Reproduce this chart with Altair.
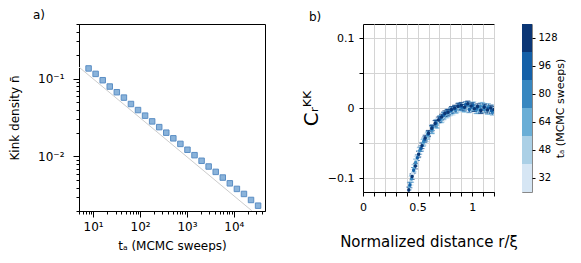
import altair as alt
import pandas as pd

FONT = "DejaVu Sans"

# ---------------- panel a: kink density vs annealing time ----------------
anneal_time = [8, 11.3, 16, 22.6, 32, 45.3, 64, 90.5, 128, 181, 256, 362, 512,
               724, 1024, 1448, 2048, 2896, 4096, 5793, 8192, 11585, 16384,
               23170, 32768]
kink_density = [0.1346, 0.1146, 0.0951, 0.0789, 0.0667, 0.0569, 0.0471, 0.0394,
                0.0334, 0.0282, 0.0238, 0.0202, 0.0171, 0.0145, 0.0122, 0.0104,
                0.00881, 0.00744, 0.00635, 0.00537, 0.00453, 0.00384, 0.00331,
                0.00277, 0.00234]
fit_time = [5, 24000]
fit_density = [0.14, 0.00202]

# ---------------- panel b: kink-kink correlation ----------------
ta_levels = [32, 48, 64, 80, 96, 128]
ta_colors = ["#d6e6f4", "#abd0e6", "#6aaed6", "#3787c0", "#1460a8", "#0b3675"]

r_32 = [0.455, 0.512, 0.569, 0.626, 0.683, 0.74, 0.797, 0.854, 0.911, 0.968,
        1.025, 1.082, 1.139, 1.196]
c_32 = [-0.094, -0.063, -0.044, -0.030, -0.021, -0.012, -0.006, -0.002, 0.001,
        0.003, -0.001, 0.002, -0.003, -0.001]
r_48 = [0.44, 0.488, 0.536, 0.584, 0.632, 0.68, 0.728, 0.776, 0.824, 0.872,
        0.92, 0.968, 1.016, 1.064, 1.112, 1.16]
c_48 = [-0.104, -0.075, -0.055, -0.042, -0.031, -0.022, -0.014, -0.008, -0.004,
        0.000, 0.002, -0.001, 0.003, -0.002, 0.000, -0.003]
r_64 = [0.425, 0.467, 0.509, 0.551, 0.593, 0.635, 0.677, 0.719, 0.761, 0.803,
        0.845, 0.887, 0.929, 0.971, 1.013, 1.055, 1.097, 1.139, 1.181]
c_64 = [-0.112, -0.086, -0.066, -0.050, -0.040, -0.031, -0.024, -0.016, -0.009,
        -0.005, -0.002, 0.001, -0.001, 0.003, 0.000, -0.002, 0.003, -0.004, -0.001]
r_80 = [0.445, 0.482, 0.519, 0.556, 0.593, 0.63, 0.667, 0.704, 0.741, 0.778,
        0.815, 0.852, 0.889, 0.926, 0.963, 1.0, 1.037, 1.074, 1.111, 1.148, 1.185]
c_80 = [-0.101, -0.078, -0.061, -0.048, -0.038, -0.031, -0.023, -0.016, -0.011,
        -0.007, -0.003, -0.002, 0.002, 0.000, 0.004, 0.001, -0.003, 0.002, -0.002,
        0.001, -0.005]
r_96 = [0.43, 0.464, 0.498, 0.532, 0.566, 0.60, 0.634, 0.668, 0.702, 0.736, 0.77,
        0.804, 0.838, 0.872, 0.906, 0.94, 0.974, 1.008, 1.042, 1.076, 1.11, 1.144,
        1.178]
c_96 = [-0.110, -0.089, -0.071, -0.058, -0.045, -0.037, -0.028, -0.021, -0.016,
        -0.010, -0.006, -0.004, -0.001, 0.003, 0.001, 0.005, -0.002, 0.004, 0.000,
        -0.003, 0.002, -0.001, -0.004]
r_128 = [0.42, 0.45, 0.48, 0.51, 0.54, 0.57, 0.60, 0.63, 0.66, 0.69, 0.72, 0.75,
         0.78, 0.81, 0.84, 0.87, 0.90, 0.93, 0.96, 0.99, 1.02, 1.05, 1.08, 1.11,
         1.14, 1.17, 1.20]
c_128 = [-0.117, -0.098, -0.083, -0.066, -0.054, -0.043, -0.036, -0.029, -0.022,
         -0.017, -0.013, -0.008, -0.006, -0.002, 0.000, 0.002, 0.004, 0.001, 0.006,
         0.003, -0.001, 0.002, -0.004, 0.001, -0.003, 0.000, -0.002]
err_by_ta = [0.006, 0.006, 0.005, 0.005, 0.004, 0.004]

xa_ticks = [5, 6, 7, 8, 9] + [m * k for m in [10, 100, 1000] for k in range(1, 10)] + [10000, 20000, 30000, 40000]
ya_ticks = [0.002, 0.003, 0.004, 0.005, 0.006, 0.007, 0.008, 0.009,
            0.01, 0.02, 0.03, 0.04, 0.05, 0.06, 0.07, 0.08, 0.09,
            0.1, 0.2, 0.3, 0.4, 0.5]
xb_ticks = [0, 0.1, 0.2, 0.3, 0.4, 0.5, 0.6, 0.7, 0.8, 0.9, 1.0, 1.1, 1.2]
yb_ticks = [-0.1, -0.05, 0, 0.05, 0.1]

# ---------------- build tables ----------------
df_a = pd.DataFrame({"t": anneal_time, "n": kink_density})
df_fit = pd.DataFrame({"t": fit_time, "n": fit_density})

series_r = [r_32, r_48, r_64, r_80, r_96, r_128]
series_c = [c_32, c_48, c_64, c_80, c_96, c_128]
rows = []
for ta, rs, cs, e in zip(ta_levels, series_r, series_c, err_by_ta):
    for r, c in zip(rs, cs):
        rows.append({"ta": ta, "r": r, "c": c, "lo": c - e, "hi": c + e})
df_b = pd.DataFrame(rows)
df_cb = pd.DataFrame({"ta": ta_levels})

# ---------------- panel a ----------------
xa_scale = alt.Scale(type="log", domain=[5, 46000], nice=False)
ya_scale = alt.Scale(type="log", domain=[0.002, 0.5], nice=False)
xa_axis = alt.Axis(
    values=xa_ticks, tickCount=60,
    labelExpr="datum.value == 10 ? '10¹' : datum.value == 100 ? '10²' : datum.value == 1000 ? '10³' : datum.value == 10000 ? '10⁴' : ''",
    tickSize={"condition": {"test": "indexof([10,100,1000,10000], datum.value) >= 0", "value": 6}, "value": 3},
    grid=False, labelFontSize=12, labelPadding=4, labelOverlap=False, labelFlush=False,
    title="tₐ (MCMC sweeps)", titleFontSize=12, titlePadding=8,
)
ya_axis = alt.Axis(
    values=ya_ticks, tickCount=60,
    labelExpr="datum.value == 0.1 ? '10⁻¹' : datum.value == 0.01 ? '10⁻²' : ''",
    tickSize={"condition": {"test": "datum.value == 0.1 || datum.value == 0.01", "value": 6}, "value": 3},
    grid=False, labelFontSize=12, labelPadding=9, labelOverlap=False, labelFlush=False,
    title="Kink density n̄", titleFontSize=12, titlePadding=16,
)

fit_line = alt.Chart(df_fit).mark_line(color="#cccccc", strokeWidth=1, clip=True).encode(
    x=alt.X("t:Q", scale=xa_scale, axis=xa_axis),
    y=alt.Y("n:Q", scale=ya_scale, axis=ya_axis),
)
squares = alt.Chart(df_a).mark_square(size=30, color="#8ab3da", stroke="#5b8ec4",
                                      strokeWidth=1, opacity=1).encode(
    x=alt.X("t:Q", scale=xa_scale),
    y=alt.Y("n:Q", scale=ya_scale),
)
panel_a = alt.layer(fit_line, squares).properties(
    width=186, height=187,
    title=alt.TitleParams("a)", anchor="start", frame="group", dx=-46, offset=-4,
                          fontSize=12, fontWeight="normal", font=FONT, color="black"),
    view=alt.ViewBackground(stroke="black", strokeWidth=1),
)

# ---------------- panel b ----------------
xb_scale = alt.Scale(domain=[0, 1.2], nice=False, zero=False)
yb_scale = alt.Scale(domain=[-0.12, 0.12], nice=False, zero=False)
color_enc = alt.Color("ta:O", scale=alt.Scale(domain=ta_levels, range=ta_colors), legend=None)
xb_axis = alt.Axis(
    values=xb_ticks, tickCount=40,
    labelExpr="datum.value == 0 ? '0' : datum.value == 0.5 ? '0.5' : datum.value == 1 ? '1' : ''",
    grid=True, gridColor="#d4d4d4", gridWidth=1, tickSize=4, labelFontSize=11,
    labelPadding=5, labelOverlap=False, labelFlush=False,
    title="Normalized distance r/ξ", titleFontSize=15, titlePadding=22,
)
yb_axis = alt.Axis(
    values=yb_ticks, tickCount=40,
    labelExpr="datum.value == 0 ? '0' : datum.value == 0.1 ? '0.1' : datum.value == -0.1 ? '−0.1' : ''",
    grid=True, gridColor="#d4d4d4", gridWidth=1, tickSize=4, labelFontSize=11,
    labelPadding=5, labelOverlap=False, labelFlush=False,
    title="Cᵣᴷᴷ", titleFontSize=20, titlePadding=6,
)
err_rule = alt.Chart(df_b).mark_rule(strokeWidth=1, clip=True).encode(
    x=alt.X("r:Q", scale=xb_scale, axis=xb_axis),
    y=alt.Y("lo:Q", scale=yb_scale, axis=yb_axis),
    y2="hi:Q",
    color=color_enc,
)
cap_lo = alt.Chart(df_b).mark_tick(orient="horizontal", size=5, thickness=1, clip=True).encode(
    x=alt.X("r:Q", scale=xb_scale), y=alt.Y("lo:Q", scale=yb_scale), color=color_enc)
cap_hi = alt.Chart(df_b).mark_tick(orient="horizontal", size=5, thickness=1, clip=True).encode(
    x=alt.X("r:Q", scale=xb_scale), y=alt.Y("hi:Q", scale=yb_scale), color=color_enc)
dots = alt.Chart(df_b).mark_circle(size=12, opacity=1, clip=True).encode(
    x=alt.X("r:Q", scale=xb_scale), y=alt.Y("c:Q", scale=yb_scale), color=color_enc)

panel_b = alt.layer(err_rule, cap_lo, cap_hi, dots).properties(
    width=131, height=168,
    title=alt.TitleParams("b)", anchor="start", frame="group", dx=-54, offset=0,
                          fontSize=12, fontWeight="normal", font=FONT, color="black"),
    view=alt.ViewBackground(stroke="black", strokeWidth=1),
)

# ---------------- colour bar ----------------
cbar = alt.Chart(df_cb).mark_rect().encode(
    x=alt.value(0), x2=alt.value(10),
    y=alt.Y("ta:O", sort="descending", scale=alt.Scale(paddingInner=0, paddingOuter=0),
            axis=alt.Axis(orient="right", title="tₐ (MCMC sweeps)", titleAngle=270,
                          titleFontSize=11, titlePadding=8, labelFontSize=10,
                          tickSize=3, labelPadding=3, domain=False,
                          titleBaseline="bottom")),
    color=color_enc,
).properties(
    width=10, height=168,
    title=alt.TitleParams("b)", anchor="start", frame="group", offset=0, fontSize=12,
                          fontWeight="normal", font=FONT, color="transparent"),
    view=alt.ViewBackground(stroke="#888888", strokeWidth=1),
)

chart = alt.hconcat(
    panel_a,
    alt.hconcat(panel_b, cbar, spacing=3),
    spacing=34,
).properties(padding=0).configure(font=FONT).configure_axis(
    labelFont=FONT, titleFont=FONT, labelColor="black", titleColor="black",
    tickColor="black", domainColor="black", titleFontWeight="normal",
)

chart.save("out.html", embed_options={"renderer": "svg", "actions": False})
